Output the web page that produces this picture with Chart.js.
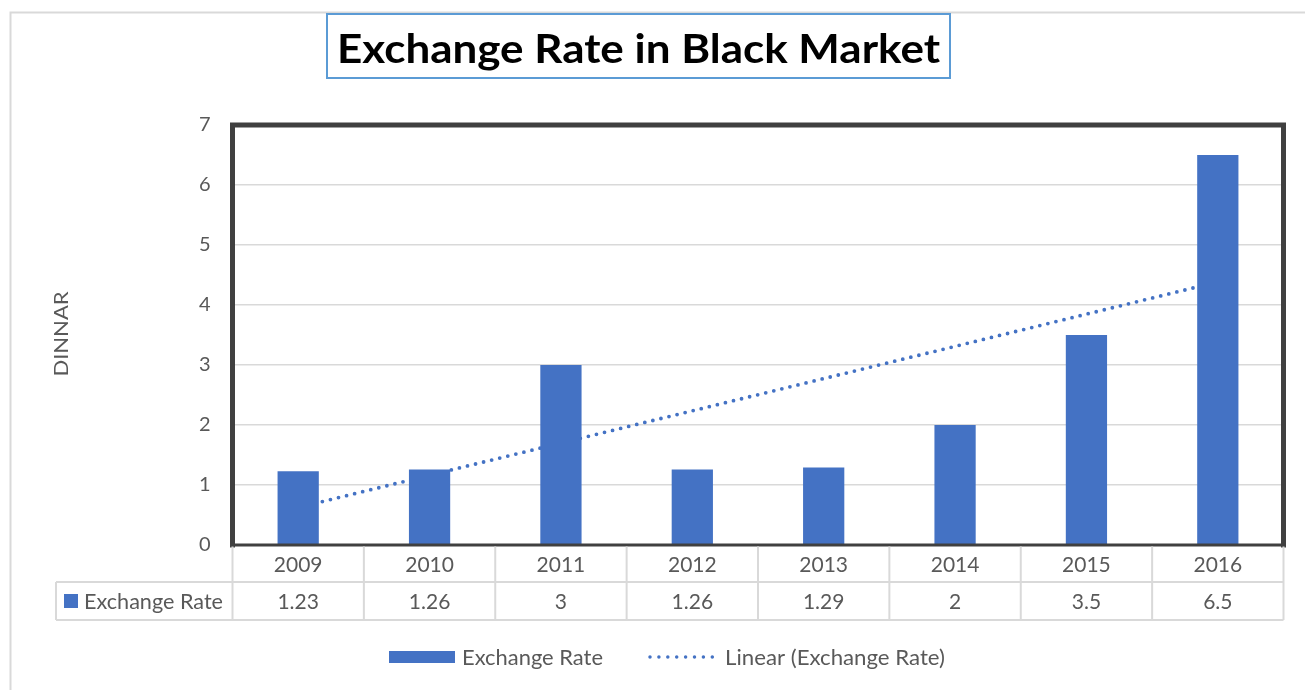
<!DOCTYPE html>
<html>
<head>
<meta charset="utf-8">
<title>Exchange Rate in Black Market</title>
<script src="https://cdn.jsdelivr.net/npm/chart.js@4.4.1/dist/chart.umd.min.js"></script>
<style>
  html, body { margin: 0; padding: 0; background: #ffffff; }
  #wrap { width: 1305px; height: 690px; position: relative; }
  canvas { display: block; }
</style>
</head>
<body>
<div id="wrap"><canvas id="chart" width="1305" height="690"></canvas></div>
<script>
// ---- data ----
const chartTitle = 'Exchange Rate in Black Market';
const yAxisTitle = 'DINNAR';
const categories = ['2009', '2010', '2011', '2012', '2013', '2014', '2015', '2016'];
const rates = [1.23, 1.26, 3, 1.26, 1.29, 2, 3.5, 6.5];
const seriesName = 'Exchange Rate';
const trendName = 'Linear (Exchange Rate)';
const yTickValues = [0, 1, 2, 3, 4, 5, 6, 7];

// least-squares linear trend of the series over the category index
function linearTrend(values) {
  const n = values.length;
  const xs = values.map((_, i) => i + 1);
  const mx = xs.reduce((a, b) => a + b, 0) / n;
  const my = values.reduce((a, b) => a + b, 0) / n;
  let sxy = 0, sxx = 0;
  for (let i = 0; i < n; i++) {
    sxy += (xs[i] - mx) * (values[i] - my);
    sxx += (xs[i] - mx) * (xs[i] - mx);
  }
  const slope = sxy / sxx;
  return xs.map(x => my + slope * (x - mx));
}
const trend = linearTrend(rates);

// ---- styles ----
const BLUE = '#4472C4';
const TEXT = '#595959';
const GRID = '#d9d9d9';
const FRAME = '#404040';
const FONT = 'Lato, "Open Sans", sans-serif';

// draw text squeezed/stretched horizontally to a given width
function fitText(ctx, text, x, y, width, font, align) {
  ctx.save();
  ctx.font = font;
  const w = ctx.measureText(text).width;
  const s = width / w;
  ctx.translate(x, y);
  ctx.scale(s, 1);
  ctx.textAlign = align || 'left';
  ctx.fillText(text, 0, 0);
  ctx.restore();
}

const decorations = {
  id: 'decorations',
  afterDraw(chart) {
    const ctx = chart.ctx;
    const a = chart.chartArea;
    const xs = chart.scales.x;
    const n = categories.length;
    const colW = (a.right - a.left) / n;

    ctx.save();

    // outer chart frame (top and left edges)
    ctx.strokeStyle = GRID;
    ctx.lineWidth = 2;
    ctx.beginPath();
    ctx.moveTo(10.5, 690);
    ctx.lineTo(10.5, 12.5);
    ctx.lineTo(1305, 12.5);
    ctx.stroke();

    // title box
    ctx.fillStyle = '#ffffff';
    ctx.fillRect(327, 14, 623, 64);
    ctx.strokeStyle = '#5B9BD5';
    ctx.lineWidth = 2;
    ctx.strokeRect(327, 14, 623, 64);
    ctx.fillStyle = '#000000';
    ctx.textBaseline = 'alphabetic';
    fitText(ctx, chartTitle, 337, 62.5, 603, 'bold 41px ' + FONT, 'left');

    // plot frame
    ctx.strokeStyle = FRAME;
    ctx.lineWidth = 5;
    ctx.lineCap = 'square';
    ctx.beginPath();
    ctx.moveTo(a.left, a.bottom);
    ctx.lineTo(a.left, a.top);
    ctx.lineTo(a.right, a.top);
    ctx.lineTo(a.right, a.bottom);
    ctx.stroke();
    ctx.lineWidth = 3;
    ctx.lineCap = 'butt';
    ctx.beginPath();
    ctx.moveTo(a.left - 2.5, a.bottom);
    ctx.lineTo(a.right + 2.5, a.bottom);
    ctx.stroke();

    // data table
    const rowTop = a.bottom + 1.5;
    const rowMid = 582;
    const rowBot = 620;
    const keyLeft = 56;
    ctx.strokeStyle = GRID;
    ctx.lineWidth = 2;
    ctx.beginPath();
    for (let k = 0; k <= n; k++) {
      const x = a.left + k * colW;
      ctx.moveTo(x, rowTop);
      ctx.lineTo(x, rowBot);
    }
    ctx.moveTo(keyLeft, rowMid);
    ctx.lineTo(a.right, rowMid);
    ctx.moveTo(keyLeft, rowBot);
    ctx.lineTo(a.right, rowBot);
    ctx.moveTo(keyLeft, rowMid);
    ctx.lineTo(keyLeft, rowBot);
    ctx.stroke();

    ctx.fillStyle = TEXT;
    ctx.font = '21px ' + FONT;
    ctx.textAlign = 'center';
    ctx.textBaseline = 'middle';
    for (let k = 0; k < n; k++) {
      const cx = xs.getPixelForValue(k);
      ctx.fillText(categories[k], cx, (rowTop + rowMid) / 2 + 1);
      ctx.fillText(String(rates[k]), cx, (rowMid + rowBot) / 2 + 1);
    }
    ctx.fillStyle = BLUE;
    ctx.fillRect(64, 594, 14, 14);
    ctx.fillStyle = TEXT;
    fitText(ctx, seriesName, 84, 602, 139, '21px ' + FONT, 'left');

    // axis title
    ctx.save();
    ctx.translate(61, 334);
    ctx.rotate(-Math.PI / 2);
    fitText(ctx, yAxisTitle, 0, 1, 85, '20px ' + FONT, 'center');
    ctx.restore();

    // legend
    const ly = 657;
    ctx.fillStyle = BLUE;
    ctx.fillRect(389, 651, 66, 12);
    ctx.fillStyle = TEXT;
    fitText(ctx, seriesName, 462, ly + 1, 141, '21px ' + FONT, 'left');
    ctx.strokeStyle = BLUE;
    ctx.lineWidth = 3.5;
    ctx.lineCap = 'round';
    ctx.setLineDash([0, 8.9]);
    ctx.beginPath();
    ctx.moveTo(650, ly);
    ctx.lineTo(713, ly);
    ctx.stroke();
    ctx.setLineDash([]);
    fitText(ctx, trendName, 725, ly + 1, 220, '21px ' + FONT, 'left');

    ctx.restore();
  }
};

new Chart(document.getElementById('chart'), {
  type: 'bar',
  data: {
    labels: categories,
    datasets: [
      {
        type: 'bar',
        label: seriesName,
        data: rates,
        backgroundColor: BLUE,
        borderWidth: 0,
        barPercentage: 0.314,
        categoryPercentage: 1,
        order: 1
      },
      {
        type: 'line',
        label: trendName,
        data: trend,
        borderColor: BLUE,
        borderWidth: 3.8,
        borderDash: [0, 8.3],
        borderCapStyle: 'round',
        pointRadius: 0,
        fill: false,
        tension: 0,
        order: 2
      }
    ]
  },
  options: {
    responsive: false,
    animation: false,
    devicePixelRatio: 1,
    layout: { padding: { left: 0, right: 21.5, top: 125, bottom: 145 } },
    plugins: {
      legend: { display: false },
      title: { display: false },
      tooltip: { enabled: false }
    },
    scales: {
      x: {
        display: false,
        offset: true
      },
      y: {
        min: 0,
        max: 7,
        afterFit(scale) { scale.width = 232.5; },
        afterBuildTicks(scale) { scale.ticks = yTickValues.map(v => ({ value: v })); },
        grid: { color: GRID, lineWidth: 1.5, drawTicks: false },
        border: { display: false },
        ticks: {
          padding: 22,
          color: TEXT,
          font: { family: FONT, size: 20 }
        }
      }
    }
  },
  plugins: [decorations]
});
</script>
</body>
</html>
